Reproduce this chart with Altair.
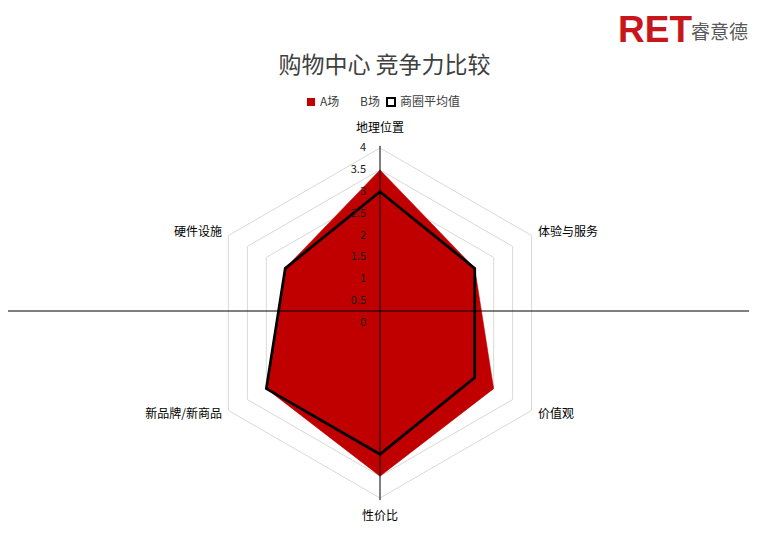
import altair as alt
import pandas as pd

# ---------------- data ----------------
categories = ["地理位置", "体验与服务", "价值观", "性价比", "新品牌/新商品", "硬件设施"]
a_values = [3.5, 2.5, 3.0, 3.5, 3.0, 2.5]
avg_values = [3.0, 2.5, 2.5, 3.0, 3.0, 2.5]
series_names = ["A场", "B场", "商圈平均值"]
ring_levels = [0.5, 1.0, 1.5, 2.0, 2.5, 3.0, 3.5, 4.0]
tick_values = [0, 0.5, 1, 1.5, 2, 2.5, 3, 3.5, 4]
tick_labels = ["0", "0.5", "1", "1.5", "2", "2.5", "3", "3.5", "4"]
title_text = "购物中心  竞争力比较"
brand_latin = "RET"
brand_cn = "睿意德"

# ---------------- style / layout ----------------
RED = "#C00000"
FONT = "Noto Sans CJK SC"
W, H = 741, 377
PAD_TOP = 140
UNIT = 43.75
CX, CY = 372, 175

xs = alt.Scale(domain=[-CX / UNIT, (W - CX) / UNIT], nice=False, zero=False)
ys = alt.Scale(domain=[-(H - CY) / UNIT, CY / UNIT], nice=False, zero=False)

a_df = pd.DataFrame({"idx": list(range(len(categories))), "value": a_values, "series": series_names[0]})
avg_df = pd.DataFrame({"idx": list(range(len(categories))), "value": avg_values, "series": series_names[2]})
ring_df = pd.DataFrame(
    [{"level": lv, "idx": i, "value": lv} for lv in ring_levels for i in range(len(categories))]
)
cat_df = pd.DataFrame({"idx": list(range(len(categories))), "category": categories})
tick_df = pd.DataFrame({"value": tick_values, "label": tick_labels})
legend_df = pd.DataFrame({"series": series_names})

polar = dict(theta="datum.idx * PI / 3")
X = alt.X("px:Q", scale=xs, axis=None)
Y = alt.Y("py:Q", scale=ys, axis=None)


def to_xy(ch):
    return ch.transform_calculate(**polar).transform_calculate(
        px="datum.value * sin(datum.theta)", py="datum.value * cos(datum.theta)"
    )


grid = to_xy(alt.Chart(ring_df)).mark_line(
    interpolate="linear-closed", stroke="#d9d9d9", strokeWidth=1
).encode(x=X, y=Y, detail="level:N", order="idx:Q")

leg = alt.Legend(
    orient="none", legendX=297, legendY=-52, direction="horizontal", title=None,
    labelFont=FONT, labelFontSize=12, labelColor="#404040", symbolType="square",
    symbolSize=64, symbolStrokeWidth=2, labelOffset=3, columnPadding=3,
)
legend_layer = alt.Chart(legend_df).mark_point(shape="square", filled=True, opacity=1).encode(
    x=alt.X(datum=0, type="quantitative", scale=xs, axis=None),
    y=alt.Y(datum=0, type="quantitative", scale=ys, axis=None),
    fill=alt.Fill("series:N", scale=alt.Scale(domain=series_names, range=[RED, "transparent", "white"]), legend=leg),
    stroke=alt.Stroke("series:N", scale=alt.Scale(domain=series_names, range=["transparent", "transparent", "black"]), legend=leg),
)

a_area = to_xy(alt.Chart(a_df)).mark_line(
    interpolate="linear-closed", fill=RED, stroke=RED, strokeWidth=0.5
).encode(x=X, y=Y, order="idx:Q")

avg_line = to_xy(alt.Chart(avg_df)).mark_line(
    interpolate="linear-closed", stroke="black", strokeWidth=2.75, strokeJoin="miter"
).encode(x=X, y=Y, order="idx:Q")

vline = alt.Chart(pd.DataFrame({"a": [0]})).mark_rule(color="black", strokeWidth=1).encode(
    x=alt.X(datum=0, type="quantitative", scale=xs, axis=None),
    y=alt.Y(datum=4.05, type="quantitative", scale=ys, axis=None),
    y2=alt.Y2(datum=-4.05),
)
hline = alt.Chart(pd.DataFrame({"a": [0]})).mark_rule(color="black", strokeWidth=1).encode(
    x=alt.value(0), x2=alt.value(W), y=alt.value(311 - 8 - PAD_TOP)
)

ticks = alt.Chart(tick_df).mark_text(
    font=FONT, fontSize=11, color="#1a1a1a", align="right", baseline="middle", dx=-14
).encode(
    x=alt.X(datum=0, type="quantitative", scale=xs, axis=None),
    y=alt.Y("value:Q", scale=ys, axis=None),
    text="label:N",
)

cat_labels = alt.Chart(cat_df).transform_calculate(**polar).transform_calculate(
    r="abs(cos(datum.theta)) > 0.99 ? 4.3 : 4.17"
).transform_calculate(
    px="datum.r * sin(datum.theta)", py="datum.r * cos(datum.theta)",
    al="sin(datum.theta) > 0.1 ? 'left' : (sin(datum.theta) < -0.1 ? 'right' : 'center')",
    bl="cos(datum.theta) > 0.99 ? 'bottom' : (cos(datum.theta) < -0.99 ? 'top' : 'middle')",
)

layers_labels = []
for al in ["left", "right", "center"]:
    for bl in ["bottom", "top", "middle"]:
        layers_labels.append(
            cat_labels.transform_filter(f"datum.al == '{al}' && datum.bl == '{bl}'").mark_text(
                font=FONT, fontSize=12, color="#000000", align=al, baseline=bl
            ).encode(x=X, y=Y, text="category:N")
        )

logo_r = alt.Chart(pd.DataFrame({"t": [brand_latin]})).mark_text(
    font="Liberation Sans", fontSize=37, fontWeight="bold", color="#C8161D",
    align="left", baseline="alphabetic"
).encode(x=alt.value(610), y=alt.value(42 - 8 - PAD_TOP), text="t:N")
logo_c = alt.Chart(pd.DataFrame({"t": [brand_cn]})).mark_text(
    font=FONT, fontSize=19, color="#595959", align="left", baseline="alphabetic"
).encode(x=alt.value(683), y=alt.value(39 - 8 - PAD_TOP), text="t:N")

chart = alt.layer(
    grid, legend_layer, a_area, avg_line, vline, hline, ticks, *layers_labels, logo_r, logo_c
).properties(
    width=W, height=H,
    background="white",
    autosize=alt.AutoSizeParams(type="none"),
    padding={"left": 0, "top": PAD_TOP, "right": 0, "bottom": 0},
    title=alt.TitleParams(
        text=title_text, font=FONT, fontSize=23, fontWeight="normal", color="#404040",
        anchor="middle", dx=6, offset=-66,
    ),
).configure_view(stroke="transparent", strokeWidth=0)

chart.save("out.html", embed_options={"renderer": "svg", "actions": False})
